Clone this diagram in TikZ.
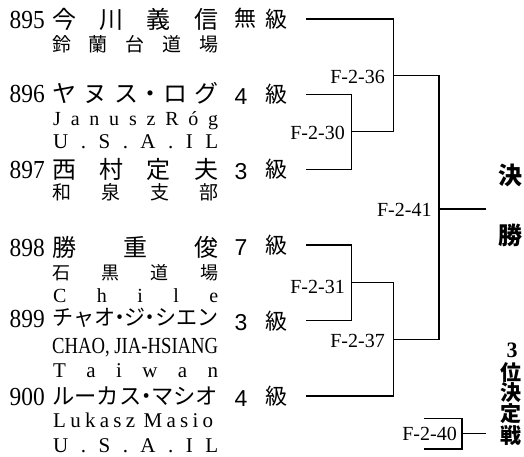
\documentclass[tikz,border=0pt]{standalone}
\usepackage{fontspec}
\usepackage{graphicx}
\setmainfont{Liberation Serif}
\newfontfamily\jp{Noto Sans CJK JP}
\newfontfamily\snum{Liberation Sans}
\newcommand\fs[1]{\fontsize{#1}{#1}\selectfont}
\newcommand\spbox[2]{\makebox[#1][l]{#2}}
\newcommand\hdot{\makebox[0.45em][c]{・}}
\begin{document}
\begin{tikzpicture}[x=1pt,y=-1pt,
  br/.style={line width=1.2pt},
  lab/.style={anchor=east, inner sep=0pt, font=\fs{20}},
  pnum/.style={anchor=base east, inner sep=0pt},
  pname/.style={anchor=west, inner sep=0pt},
  psub/.style={anchor=west, inner sep=0pt},
  plat/.style={anchor=base west, inner sep=0pt},
  grd/.style={inner sep=0pt},
  vt/.style={inner sep=0pt, font=\fs{21}\jp\bfseries}]
\useasboundingbox (0,0) rectangle (524,456);

% ---- row 895
\node[pnum] (n895) at (45,28) {\scalebox{0.9}[1]{\fs{26}895}};
\node[pname] (m895) at (52,19) {\fs{24}\jp\spbox{166pt}{今\hfill 川\hfill 義\hfill 信}};
\node[psub] (s895) at (52,44) {\fs{19}\jp\spbox{166pt}{鈴\hfill 蘭\hfill 台\hfill 道\hfill 場}};
\node[grd] (g895) at (245,18) {\fs{22}\jp 無};
\node[grd] (k895) at (276,19) {\fs{22}\jp 級};

% ---- row 896
\node[pnum] (n896) at (45,102) {\scalebox{0.9}[1]{\fs{26}896}};
\node[pname] (m896) at (52,93) {\fs{24}\jp\spbox{166pt}{ヤ\hfill ヌ\hfill ス\hfill\hdot\hfill ロ\hfill グ}};
\node[plat] (a896) at (53,125) {\fs{20}\spbox{165pt}{J\hfill a\hfill n\hfill u\hfill s\hfill z\hfill R\hfill ó\hfill g}};
\node[plat] (b896) at (53,148) {\fs{21}\spbox{165pt}{U\hfill .\hfill S\hfill .\hfill A\hfill .\hfill I\hfill L}};
\node[grd] (g896) at (241,97) {\fs{23}\snum 4};
\node[grd] (k896) at (276,94.3) {\fs{22}\jp 級};

% ---- row 897
\node[pnum] (n897) at (45,178) {\scalebox{0.9}[1]{\fs{26}897}};
\node[pname] (m897) at (52,169) {\fs{24}\jp\spbox{166pt}{西\hfill 村\hfill 定\hfill 夫}};
\node[psub] (s897) at (52,192) {\fs{19}\jp\spbox{166pt}{和\hfill 泉\hfill 支\hfill 部}};
\node[grd] (g897) at (241,172) {\fs{23}\snum 3};
\node[grd] (k897) at (276,169.3) {\fs{22}\jp 級};

% ---- row 898
\node[pnum] (n898) at (45,256) {\scalebox{0.9}[1]{\fs{26}898}};
\node[pname] (m898) at (52,247) {\fs{24}\jp\spbox{166pt}{勝\hfill 重\hfill 俊}};
\node[psub] (s898) at (52,272.5) {\fs{18}\jp\spbox{166pt}{石\hfill 黒\hfill 道\hfill 場}};
\node[plat] (a898) at (53,302) {\fs{20}\spbox{165pt}{C\hfill h\hfill i\hfill l\hfill e}};
\node[grd] (g898) at (241,248) {\fs{23}\snum 7};
\node[grd] (k898) at (276,245) {\fs{22}\jp 級};

% ---- row 899
\node[pnum] (n899) at (45,327) {\scalebox{0.9}[1]{\fs{26}899}};
\node[pname] (m899) at (52,318) {\resizebox{166pt}{\height}{\fs{22}\jp チャオ\hdot ジ\hdot シエン}};
\node[plat] (a899) at (52,353) {\resizebox{166pt}{\height}{\fs{23}CHAO, JIA-HSIANG}};
\node[plat] (b899) at (53,377) {\fs{21}\spbox{165pt}{T\hfill a\hfill i\hfill w\hfill a\hfill n}};
\node[grd] (g899) at (241,323) {\fs{23}\snum 3};
\node[grd] (k899) at (276,320.7) {\fs{22}\jp 級};

% ---- row 900
\node[pnum] (n900) at (45,405) {\scalebox{0.9}[1]{\fs{26}900}};
\node[pname] (m900) at (52,396) {\resizebox{166pt}{\height}{\fs{22.5}\jp ルーカス\hdot マシオ}};
\node[plat] (a900) at (53,427) {\fs{21}\spbox{160pt}{L\hfill u\hfill k\hfill a\hfill s\hfill z\hfill\hfill M\hfill a\hfill s\hfill i\hfill o}};
\node[plat] (b900) at (53,452) {\fs{21}\spbox{165pt}{U\hfill .\hfill S\hfill .\hfill A\hfill .\hfill I\hfill L}};
\node[grd] (g900) at (241,399) {\fs{23}\snum 4};
\node[grd] (k900) at (276,396) {\fs{22}\jp 級};

% ---- bracket coordinates
\coordinate (e895) at (306,19);
\coordinate (e896) at (306,94.3);
\coordinate (e897) at (306,169.3);
\coordinate (e898) at (306,245);
\coordinate (e899) at (306,320.7);
\coordinate (e900) at (306,396);
\coordinate (j30) at (351.7,131.3);
\coordinate (j36) at (393.3,75.3);
\coordinate (j31) at (351.7,282.7);
\coordinate (j37) at (393.3,339.3);
\coordinate (j41) at (439,209);
\coordinate (fin) at (486,209);
\coordinate (b40tl) at (424,418.7);
\coordinate (b40tr) at (462,418.7);
\coordinate (b40br) at (462,449);
\coordinate (b40bl) at (424,449);
\coordinate (j40) at (462,433.3);
\coordinate (fin40) at (486,433.3);

\draw[br] (e896) -| (j30);
\draw[br] (e897) -| (j30);
\draw[br] (e895) -| (j36);
\draw[br] (j30) -| (j36);
\draw[br] (e898) -| (j31);
\draw[br] (e899) -| (j31);
\draw[br] (j31) -| (j37);
\draw[br] (e900) -| (j37);
\draw[br] (j36) -| (j41);
\draw[br] (j37) -| (j41);
\draw[br] (j41) -- (fin);
\draw[br] (b40tl) -- (b40tr) -- (b40br) -- (b40bl);
\draw[br] (j40) -- (fin40);

% ---- match labels
\node[lab] (l36) at (385,76.7) {F-2-36};
\node[lab] (l30) at (345,132.5) {F-2-30};
\node[lab] (l41) at (431.7,209.5) {F-2-41};
\node[lab] (l31) at (345,287) {F-2-31};
\node[lab] (l37) at (385,341) {F-2-37};
\node[lab] (l40) at (457,433.8) {F-2-40};

% ---- right titles
\node[inner sep=0pt, font=\fs{24}\jp\bfseries] (kes) at (510,175) {決};
\node[inner sep=0pt, font=\fs{24}\jp\bfseries] (sho) at (510,235) {勝};
\node[inner sep=0pt, font=\fs{22}\bfseries] (t3) at (512,350) {3};
\node[vt] (t4) at (511,372) {位};
\node[vt] (t5) at (511,392.5) {決};
\node[vt] (t6) at (511,413.5) {定};
\node[vt] (t7) at (511,436) {戦};
\end{tikzpicture}
\end{document}
